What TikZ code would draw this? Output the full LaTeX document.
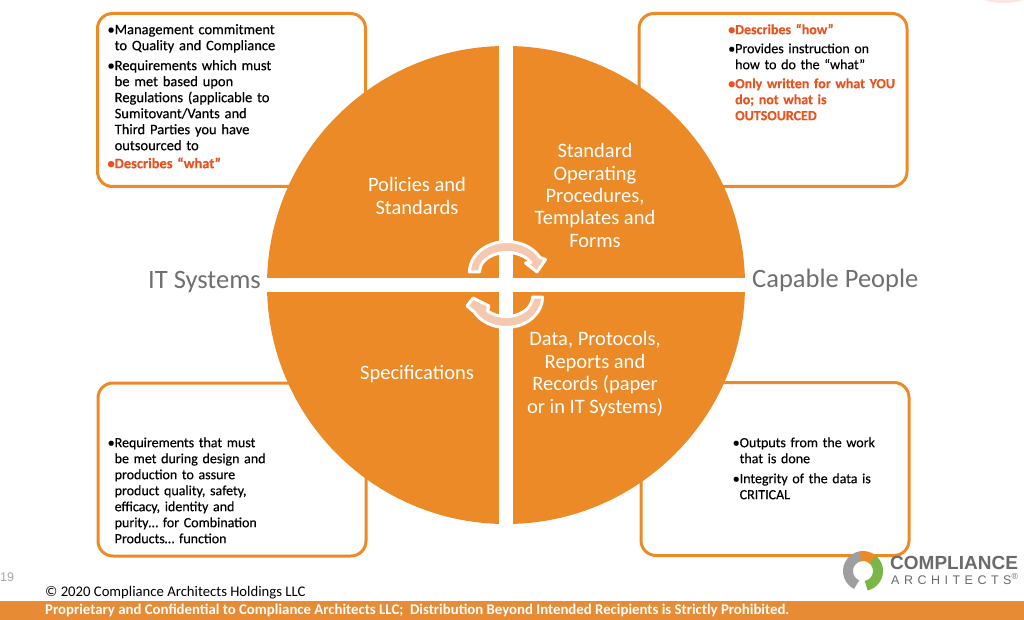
\documentclass[tikz,border=0pt]{standalone}
\usepackage{fontspec}
\setmainfont{Carlito}
\newfontfamily\logofont{Liberation Sans}
\usetikzlibrary{calc, positioning}
\definecolor{wheelorange}{HTML}{EB8A26}
\definecolor{barorange}{HTML}{E88B35}
\definecolor{alertred}{HTML}{E8531F}
\definecolor{arrowpink}{HTML}{F5C8B0}
\definecolor{labelgrey}{HTML}{6F6F6F}
\definecolor{logogrey}{HTML}{6A6A6A}
\definecolor{logogreen}{HTML}{7AB648}
\newcommand{\bul}[1]{\par\leftskip=7.5pt\noindent\llap{\textbullet}#1\par}
\newcommand{\bulred}[1]{{\color{alertred}\bfseries\bul{#1}}}

\begin{document}
\begin{tikzpicture}[
          x=1pt, y=-1pt,
          notebox/.style={rectangle, draw=wheelorange, line width=3pt, rounded corners=15pt, fill=white, minimum width=268pt, minimum height=173pt},
          notes/.style={anchor=north west, inner sep=0pt, text width=210pt, align=left, font=\fontsize{14.5}{16}\selectfont\addfontfeature{FakeBold=0.3}},
          smallnotes/.style={notes, font=\fontsize{14}{16}\selectfont\addfontfeature{FakeBold=0.3}},
          wheeltext/.style={text=white, align=center, font=\fontsize{20.5}{22.4}\selectfont},
          sidetext/.style={text=labelgrey, inner sep=0pt, font=\fontsize{26.5}{30}\selectfont},
          cyclearrow/.style={fill=arrowpink, draw=white, line width=3pt, line join=round}
        ]
          \useasboundingbox (0,0) rectangle (1024,620);
          \fill[arrowpink!45] (984,0) .. controls (995,4) and (1012,4) .. (1024,0) -- cycle;

          % note boxes behind the wheel
          \node[notebox] (policybox) at (231.5,100) {};
          \node[notebox] (sopbox) at (773,100) {};
          \node[notebox] (specbox) at (232,469.5) {};
          \node[notebox] (databox) at (775,469) {};

          % wheel and its gaps
          \node[circle, fill=wheelorange, inner sep=0pt, minimum size=478pt] (wheel) at (506,285) {};
          \draw[white, line width=13.5pt] (wheel.north) -- (wheel.south);
          \draw[white, line width=14pt] (wheel.west) -- (wheel.east);

          \node[wheeltext] (policies) at (417,196) {Policies and\\Standards};
          \node[wheeltext] (sop) at (595,195.5) {Standard\\Operating\\Procedures,\\Templates and\\Forms};
          \node[wheeltext] (specs) at (417,374) {Specifications};
          \node[wheeltext] (data) at (595,374) {Data, Protocols,\\Reports and\\Records (paper\\or in IT Systems)};

          \node[sidetext, anchor=east] (itsystems) at (261,282) {IT Systems};
          \node[sidetext, anchor=west] (people) at (752,280) {Capable People};

          % turning arrows
          \draw[cyclearrow] (469.5,272) arc (180:331.6:37.5 and 30.5) -- (545.5,259.5) -- (537,272) -- (525.5,263) -- (531,262.5) arc (331:180:27.5 and 19.5) -- cycle;
          \draw[cyclearrow] (542.5,297) arc (0:151:36.5 and 30.5) -- (467,306) -- (473,298) -- (489,306) -- (487.3,310.8) arc (135:0:26.5 and 19.5) -- cycle;

          \node[notes] (policynote) at (107,18) {%
            \bul{Management commitment\\to Quality and Compliance}\vspace{4pt}
            \bul{Requirements which must\\be met based upon\\Regulations (applicable to\\Sumitovant/Vants and\\Third Parties you have\\outsourced to}\vspace{2pt}
            \bulred{Describes “what”}};
          \node[smallnotes] (sopnote) at (727.5,18) {%
            \bulred{Describes “how”}\vspace{3pt}
            \bul{Provides instruction on\\how to do the “what”}\vspace{3pt}
            \bulred{Only written for what YOU\\do; not what is\\OUTSOURCED}};
          \node[smallnotes] (specnote) at (107,431) {%
            \bul{Requirements that must\\be met during design and\\production to assure\\product quality, safety,\\efficacy, identity and\\purity\dots{} for Combination\\Products\dots{} function}};
          \node[smallnotes] (datanote) at (732,431) {%
            \bul{Outputs from the work\\that is done}\vspace{4pt}
            \bul{Integrity of the data is\\CRITICAL}};

          % footer
          \fill[barorange] (0,601) rectangle (1024,620);
          \node[anchor=west, inner sep=0pt, text=white, font=\fontsize{14.8}{16}\selectfont\bfseries] (notice) at (45,610.5) {Proprietary and Confidential to Compliance Architects LLC;\ \ Distribution Beyond Intended Recipients is Strictly Prohibited.};
          \node[anchor=west, inner sep=0pt, font=\fontsize{14.7}{16}\selectfont] (copyright) at (45,593) {© 2020 Compliance Architects Holdings LLC};
          \node[anchor=west, inner sep=0pt, text=gray!70, font=\logofont\fontsize{12.5}{14}\selectfont] (pagenum) at (0,577) {19};

          % logo
          \draw[line width=10pt, gray!75] (863,571) ++(115:15) arc (115:265:15);
          \draw[line width=10pt, logogreen] (863,571) ++(-55:15) arc (-55:78:15);
          \draw[line width=10pt, wheelorange] (863,571) ++(-100:15) arc (-100:-50:15);
          \node[anchor=west, inner sep=0pt, text=logogrey, font=\logofont\fontsize{19}{20}\selectfont\bfseries] (logoname) at (890,563) {COMPLIANCE};
          \node[anchor=west, inner sep=0pt, text=logogrey, font=\logofont\fontsize{12.5}{14}\selectfont\addfontfeature{LetterSpace=36}] (logosub) at (891,579) {ARCHITECTS\textsuperscript{®}};
        \end{tikzpicture}
\end{document}
